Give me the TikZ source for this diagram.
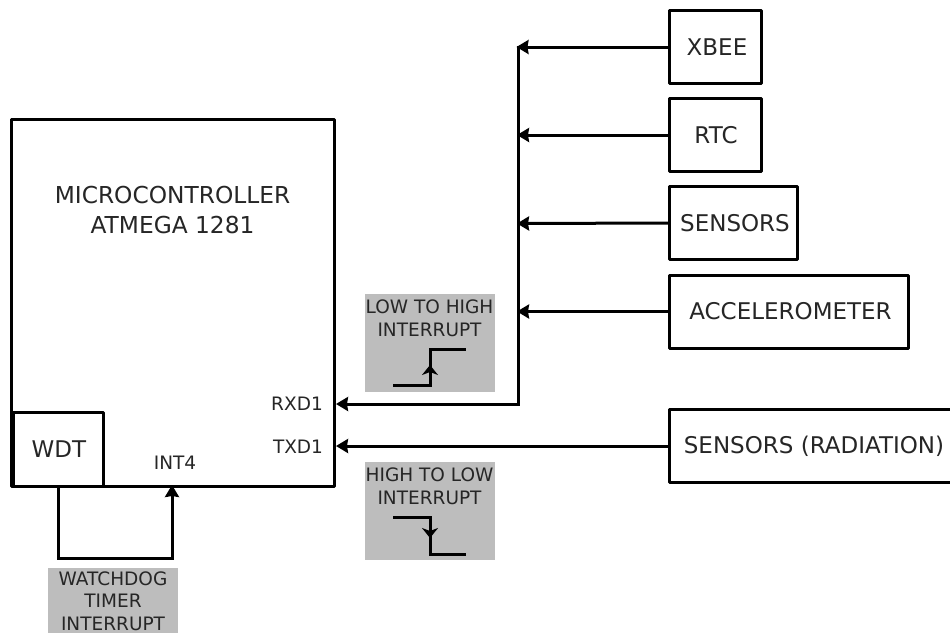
\documentclass[tikz,border=0pt]{standalone}
\usepackage{fontspec}
\setmainfont{DejaVu Sans}
\usetikzlibrary{arrows.meta}
\tikzset{
 px/.style={x=1pt,y=-1pt},
 box/.style={draw=black,line width=3pt,fill=white,inner sep=0pt,outer sep=0pt,anchor=north west,line join=round},
 conn/.style={draw=black,line width=3pt,-{Stealth[length=12pt,width=14pt,inset=1pt]}},
 step arrow/.style={draw=black,line width=3pt,-{Stealth[length=10pt,width=16pt,inset=3pt]}},
 wire/.style={draw=black,line width=3pt},
 grey/.style={fill=black!26,draw=none,inner sep=0pt,outer sep=0pt,anchor=north west},
 lab/.style={font=\fontsize{18.5}{23}\selectfont,align=center,inner sep=0pt,text=black!85},
 labtight/.style={font=\fontsize{18.5}{22.5}\selectfont,align=center,inner sep=0pt,text=black!85},
 pin/.style={font=\fontsize{18.5}{21}\selectfont,inner sep=0pt,text=black!85},
 big/.style={font=\fontsize{23.3}{30}\selectfont,align=center,inner sep=0pt,text=black!85},
 txt/.style={font=\fontsize{23}{26}\selectfont,inner sep=0pt,text=black!85}
}
\begin{document}
\begin{tikzpicture}[px]
\useasboundingbox (0,0) rectangle (950,633);
\clip (0,0) rectangle (950,633);
% grey panels
\node[grey,minimum width=130pt,minimum height=98pt] (g1) at (364.5,293.5) {};
\node[grey,minimum width=130pt,minimum height=98pt] (g2) at (364.5,462) {};
\node[grey,minimum width=130pt,minimum height=65pt] (g3) at (48,568) {};
\node[lab] (g1t) at (429.5,318) {LOW TO HIGH\\INTERRUPT};
\node[lab] (g2t) at (429.5,486) {HIGH TO LOW\\INTERRUPT};
\node[labtight] (g3t) at (113,601) {WATCHDOG\\TIMER\\INTERRUPT};
% microcontroller
\node[box,minimum width=323pt,minimum height=367pt] (mcu) at (11,119) {};
\node[big] (mcut) at (172.5,210) {MICROCONTROLLER\\ATMEGA 1281};
\node[box,minimum width=90.5pt,minimum height=73.5pt] (wdt) at (13,412.5) {};
\node[txt] (wdtt) at (59,449) {WDT};
\node[pin] (int4) at (175,463) {INT4};
\node[pin] (rxd) at (297,404) {RXD1};
\node[pin] (txd) at (298,446.5) {TXD1};
% right boxes
\node[box,minimum width=92pt,minimum height=73pt] (xbee) at (669.5,10.5) {};
\node[txt] (xbeet) at (717,47) {XBEE};
\node[box,minimum width=92pt,minimum height=73pt] (rtc) at (669.5,98.5) {};
\node[txt] (rtct) at (716,135) {RTC};
\node[box,minimum width=128pt,minimum height=73pt] (sens) at (669.5,186.5) {};
\node[txt] (senst) at (735,223) {SENSORS};
\node[box,minimum width=239pt,minimum height=73pt] (acc) at (669.5,275) {};
\node[txt] (acct) at (790.5,311) {ACCELEROMETER};
\node[box,minimum width=300pt,minimum height=73pt] (rad) at (669.5,409.5) {};
\node[txt] (radt) at (814,446) {SENSORS (RADIATION)};
% bus
\coordinate (bt) at (518,47);
\coordinate (bb) at (518,404);
\coordinate (rx) at (336,404);
\coordinate (tx) at (336,446);
\draw[wire,line cap=rect] (bt) -- (bb);
\draw[conn] (xbee.west) -- (516.5,47);
\draw[conn] (rtc.west) -- (517,135);
\draw[conn] (sens.west) -- (517,223.5);
\draw[conn] (acc.west) -- (517,311.5);
\draw[conn] (bb) -- (rx);
\draw[conn] (rad.west) -- (tx);
% watchdog
\coordinate (w1) at (58,486);
\coordinate (w2) at (58,558.5);
\coordinate (w3) at (172,558.5);
\coordinate (w4) at (172,485);
\draw[conn] (w1) -- (w2) -- (w3) -- (w4);
% edges
\coordinate (a1) at (393,385.5);
\coordinate (a2) at (430,385.5);
\coordinate (a3) at (430,349);
\coordinate (a4) at (466,349);
\draw[wire] (a1) -- (a2) -- (a3) -- (a4);
\draw[step arrow] (a2) -- (430,365);
\coordinate (b1) at (393,517.5);
\coordinate (b2) at (430,517.5);
\coordinate (b3) at (430,554);
\coordinate (b4) at (466,554);
\draw[wire] (b1) -- (b2) -- (b3) -- (b4);
\draw[step arrow] (b2) -- (430,538);
\end{tikzpicture}
\end{document}
